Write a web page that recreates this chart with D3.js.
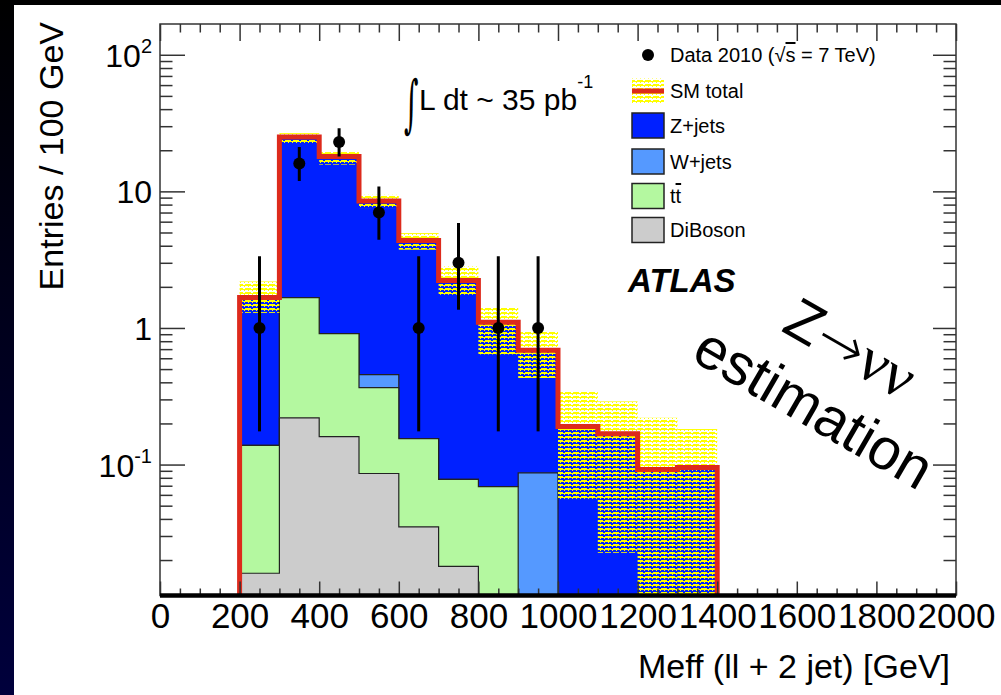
<!DOCTYPE html>
<html>
<head>
<meta charset="utf-8">
<script src="https://cdn.jsdelivr.net/npm/d3@7"></script>
<style>
html, body { margin: 0; padding: 0; background: #000; }
svg { display: block; }
text { font-family: "Liberation Sans", Arial, Helvetica, sans-serif; }
</style>
</head>
<body>
<div id="wrapper"></div>
<script>
// bin edges in GeV (100 GeV bins)
const binEdges = [200, 300, 400, 500, 600, 700, 800, 900, 1000, 1100, 1200, 1300, 1400];
// stacked backgrounds, entries per bin
const diboson = [0.016, 0.22, 0.16, 0.086, 0.035, 0.018, 0, 0, 0, 0, 0, 0];
const ttbar   = [0.122, 1.45, 0.75, 0.28, 0.12, 0.06, 0.069, 0, 0, 0, 0, 0];
const wjets   = [0, 0, 0, 0.089, 0, 0, 0, 0.087, 0, 0, 0, 0];
const zjets   = [1.53, 23.3, 17.1, 8.05, 4.22, 2.15, 1.03, 0.60, 0.19, 0.168, 0.092, 0.095];
// SM total uncertainty band
const bandLow  = [1.29, 22.5, 15.7, 7.55, 3.74, 1.75, 0.64, 0.43, 0.056, 0.0226, 0, 0];
const bandHigh = [2.19, 26.7, 19.4, 9.44, 4.95, 2.82, 1.40, 0.944, 0.344, 0.29, 0.22, 0.182];
// data 2010
const dataX    = [250, 350, 450, 550, 650, 750, 850, 950];
const dataY    = [1, 16, 23, 7, 1, 3, 1, 1];
const dataLow  = [0.175, 11.9, 18.0, 4.43, 0.175, 1.36, 0.175, 0.175];
const dataHigh = [3.35, 21.1, 29.0, 10.84, 3.35, 5.87, 3.35, 3.35];
// axes
const xTicks = [0, 200, 400, 600, 800, 1000, 1200, 1400, 1600, 1800, 2000];
const yTickValues = [0.1, 1, 10, 100];
const yTickBase = ["10", "1", "10", "10"];
const yTickSup  = ["-1", "", "", "2"];
const legendLabels = ["Data 2010", "SM total", "Z+jets", "W+jets", "tt", "DiBoson"];

const colors = {
    z: "#0020ff",
    w: "#5599ff",
    tt: "#b4f8a0",
    dib: "#cccccc",
    red: "#dd2a1c",
    yellow: "#ffff00",
    frame: "#333"
};

const dimension = {
    width: 1001,
    height: 695,
    margin: { top: 24, left: 160, right: 45, bottom: 99.5 }
};
dimension.boundedWidth = dimension.width - dimension.margin.left - dimension.margin.right;
dimension.boundedHeight = dimension.height - dimension.margin.top - dimension.margin.bottom;

const yMin = 0.011, yMax = 168;

const svg = d3.select("#wrapper").append("svg")
    .attr("width", dimension.width)
    .attr("height", dimension.height);
const defs = svg.append("defs");

// dark border of the slide
const grad = defs.append("linearGradient").attr("id", "edge")
    .attr("x1", 0).attr("y1", 0).attr("x2", 0).attr("y2", 1);
grad.append("stop").attr("offset", "0%").attr("stop-color", "#000");
grad.append("stop").attr("offset", "100%").attr("stop-color", "#00003c");
svg.append("rect").attr("width", dimension.width).attr("height", dimension.height).attr("fill", "#000");
svg.append("rect").attr("width", 14).attr("height", dimension.height).attr("fill", "url(#edge)");
svg.append("rect").attr("x", 14).attr("y", 5)
    .attr("width", dimension.width - 14).attr("height", dimension.height - 5)
    .attr("fill", "#fff");

// yellow hatch for the uncertainty band (rows of small boxes)
const hatch = defs.append("pattern").attr("id", "hatch")
    .attr("patternUnits", "userSpaceOnUse")
    .attr("width", 8).attr("height", 4);
hatch.append("path")
    .attr("d", "M0,0H8V2H0Z M3,0H5V1H3Z M0,2H1V3H0Z M4,2H5V3H4Z")
    .attr("fill", colors.yellow)
    .attr("fill-rule", "evenodd");

defs.append("clipPath").attr("id", "plotClip")
    .append("rect")
    .attr("x", dimension.margin.left).attr("y", dimension.margin.top)
    .attr("width", dimension.boundedWidth).attr("height", dimension.boundedHeight);

const xScaler = d3.scaleLinear()
    .domain([0, 2000])
    .range([dimension.margin.left, dimension.margin.left + dimension.boundedWidth]);
const yScaler = d3.scaleLog()
    .domain([yMin, yMax])
    .range([dimension.margin.top + dimension.boundedHeight, dimension.margin.top]);
const yClamp = (v) => yScaler(Math.max(v, yMin));

// cumulative stack
const cumDib = diboson.slice();
const cumTt = cumDib.map((d, i) => d + ttbar[i]);
const cumW = cumTt.map((d, i) => d + wjets[i]);
const cumZ = cumW.map((d, i) => d + zjets[i]);

function stepPoints(vals) {
    const pts = [];
    vals.forEach((v, i) => {
        pts.push([binEdges[i], v]);
        pts.push([binEdges[i + 1], v]);
    });
    return pts;
}

const areaGenerator = d3.area()
    .x(d => xScaler(d[0]))
    .y0(yScaler(yMin))
    .y1(d => yClamp(d[1]));

const plot = svg.append("g").attr("clip-path", "url(#plotClip)");

const layers = [
    [cumZ, colors.z],
    [cumW, colors.w],
    [cumTt, colors.tt],
    [cumDib, colors.dib]
];
layers.forEach(([vals, col]) => {
    plot.append("path")
        .attr("d", areaGenerator(stepPoints(vals)))
        .attr("fill", col)
        .attr("stroke", "#222")
        .attr("stroke-width", 1.2);
});

// uncertainty band
plot.selectAll("rect.band")
    .data(bandHigh)
    .join("rect")
    .attr("class", "band")
    .attr("x", (d, i) => xScaler(binEdges[i]))
    .attr("width", (d, i) => xScaler(binEdges[i + 1]) - xScaler(binEdges[i]))
    .attr("y", d => yClamp(d))
    .attr("height", (d, i) => yClamp(bandLow[i]) - yClamp(d))
    .attr("fill", "url(#hatch)");

// SM total outline
const redPts = [[binEdges[0], yMin]].concat(stepPoints(cumZ), [[binEdges[binEdges.length - 1], yMin]]);
const lineGenerator = d3.line()
    .x(d => xScaler(d[0]))
    .y(d => yClamp(d[1]));
plot.append("path")
    .attr("d", lineGenerator(redPts))
    .attr("fill", "none")
    .attr("stroke", colors.red)
    .attr("stroke-width", 5)
    .attr("stroke-linejoin", "miter");

// data points
plot.selectAll("line.err")
    .data(dataX)
    .join("line")
    .attr("class", "err")
    .attr("x1", d => xScaler(d)).attr("x2", d => xScaler(d))
    .attr("y1", (d, i) => yClamp(dataLow[i]))
    .attr("y2", (d, i) => yClamp(dataHigh[i]))
    .attr("stroke", "#000")
    .attr("stroke-width", 3);
plot.selectAll("circle.pt")
    .data(dataX)
    .join("circle")
    .attr("class", "pt")
    .attr("cx", d => xScaler(d))
    .attr("cy", (d, i) => yScaler(dataY[i]))
    .attr("r", 6)
    .attr("fill", "#000");

// frame
svg.append("rect")
    .attr("x", dimension.margin.left).attr("y", dimension.margin.top)
    .attr("width", dimension.boundedWidth).attr("height", dimension.boundedHeight)
    .attr("fill", "none").attr("stroke", colors.frame).attr("stroke-width", 1.5);

// ticks
const yMinor = [];
[-2, -1, 0, 1, 2].forEach(e => {
    for (let k = 2; k <= 9; k++) {
        const v = k * Math.pow(10, e);
        if (v > yMin && v < yMax) yMinor.push(v);
    }
});
const xMinor = d3.range(0, 2001, 50).filter(v => v % 200 !== 0);

function tickAxis(axis, transform) {
    const g = svg.append("g").attr("transform", transform).call(axis);
    g.select(".domain").remove();
    g.selectAll("line").attr("stroke", colors.frame).attr("stroke-width", 1.5);
    return g;
}
const plotLeft = dimension.margin.left;
const plotRight = dimension.margin.left + dimension.boundedWidth;
const plotTop = dimension.margin.top;
const plotBottom = dimension.margin.top + dimension.boundedHeight;

tickAxis(d3.axisLeft(yScaler).tickValues(yTickValues).tickSizeInner(-25).tickSizeOuter(0).tickFormat(""), `translate(${plotLeft},0)`);
tickAxis(d3.axisLeft(yScaler).tickValues(yMinor).tickSizeInner(-12.5).tickSizeOuter(0).tickFormat(""), `translate(${plotLeft},0)`);
tickAxis(d3.axisRight(yScaler).tickValues(yTickValues).tickSizeInner(-23).tickSizeOuter(0).tickFormat(""), `translate(${plotRight},0)`);
tickAxis(d3.axisRight(yScaler).tickValues(yMinor).tickSizeInner(-12.5).tickSizeOuter(0).tickFormat(""), `translate(${plotRight},0)`);
tickAxis(d3.axisTop(xScaler).tickValues(xTicks).tickSizeInner(-17).tickSizeOuter(0).tickFormat(""), `translate(0,${plotTop})`);
tickAxis(d3.axisTop(xScaler).tickValues(xMinor).tickSizeInner(-8.5).tickSizeOuter(0).tickFormat(""), `translate(0,${plotTop})`);
tickAxis(d3.axisBottom(xScaler).tickValues(xMinor).tickSizeInner(-7).tickSizeOuter(0).tickFormat(""), `translate(0,${plotBottom})`);
const xAxisG = tickAxis(d3.axisBottom(xScaler).tickValues(xTicks).tickSizeInner(-14).tickSizeOuter(0)
    .tickPadding(8).tickFormat(d3.format("d")), `translate(0,${plotBottom})`);
xAxisG.attr("font-family", null).attr("font-size", null);
xAxisG.selectAll("text").attr("fill", "#000").style("font-size", "35px");

// thick bottom axis line
svg.append("line")
    .attr("x1", plotLeft).attr("x2", plotRight)
    .attr("y1", plotBottom).attr("y2", plotBottom)
    .attr("stroke", "#000").attr("stroke-width", 4.5);

// y tick labels 10^n
const yLab = svg.selectAll("text.ylab")
    .data(yTickValues)
    .join("text")
    .attr("class", "ylab")
    .attr("x", 152)
    .attr("y", d => yScaler(d) + 12)
    .attr("text-anchor", "end")
    .style("font-size", "32px");
yLab.append("tspan").text((d, i) => yTickBase[i]);
yLab.filter((d, i) => yTickSup[i] !== "")
    .append("tspan")
    .attr("dy", -14)
    .style("font-size", "20px")
    .text((d) => yTickSup[yTickValues.indexOf(d)]);

// axis titles
svg.append("text")
    .attr("transform", "translate(63,22) rotate(-90)")
    .attr("text-anchor", "end")
    .style("font-size", "34px")
    .text("Entries / 100 GeV");
svg.append("text")
    .attr("x", 950).attr("y", 678)
    .attr("text-anchor", "end")
    .style("font-size", "34px")
    .text("Meff (ll + 2 jet) [GeV]");

// luminosity
svg.append("text")
    .attr("transform", "translate(404,125) scale(0.5,1.12)")
    .style("font-family", "'DejaVu Serif', serif")
    .style("font-size", "56px")
    .text("\u222B");
const lumi = svg.append("text")
    .attr("x", 419).attr("y", 110)
    .style("font-size", "30px");
lumi.append("tspan").text("L dt ~ 35 pb");
lumi.append("tspan").attr("dy", -22).style("font-size", "18px").text("-1");

// ATLAS
svg.append("text")
    .attr("x", 628).attr("y", 292)
    .style("font-size", "33px")
    .style("font-weight", "bold")
    .style("font-style", "italic")
    .text("ATLAS");

// legend
const legX = 632, legW = 32, legH = 25, textX = 670;
const legY = [55, 91, 125.5, 161.5, 196, 230];
svg.append("circle").attr("cx", 648).attr("cy", legY[0]).attr("r", 6).attr("fill", "#000");
const dataLeg = svg.append("text").attr("x", textX).attr("y", legY[0] + 7).style("font-size", "20px");
dataLeg.append("tspan").text(legendLabels[0] + " (\u221A");
dataLeg.append("tspan").style("text-decoration", "overline").text("s");
dataLeg.append("tspan").text(" = 7 TeV)");

svg.append("rect").attr("x", legX).attr("y", legY[1] - legH / 2)
    .attr("width", legW).attr("height", legH).attr("fill", "url(#hatch)");
svg.append("line").attr("x1", legX).attr("x2", legX + legW)
    .attr("y1", legY[1]).attr("y2", legY[1])
    .attr("stroke", colors.red).attr("stroke-width", 5);

const boxColors = [null, null, colors.z, colors.w, colors.tt, colors.dib];
[2, 3, 4, 5].forEach(i => {
    svg.append("rect").attr("x", legX).attr("y", legY[i] - legH / 2)
        .attr("width", legW).attr("height", legH)
        .attr("fill", boxColors[i]).attr("stroke", "#222").attr("stroke-width", 1.5);
});
[1, 2, 3, 5].forEach(i => {
    svg.append("text").attr("x", textX).attr("y", legY[i] + 7)
        .style("font-size", "20px").text(legendLabels[i]);
});
const ttLeg = svg.append("text").attr("x", textX).attr("y", legY[4] + 7).style("font-size", "20px");
ttLeg.append("tspan").text("t");
ttLeg.append("tspan").style("text-decoration", "overline").text("t");

// annotation
const note = svg.append("g").attr("transform", "translate(804,425) rotate(30)");
note.append("text")
    .attr("text-anchor", "middle")
    .style("font-size", "58px")
    .text("estimation");
const zt = note.append("text")
    .attr("x", 2).attr("y", -70)
    .attr("text-anchor", "middle")
    .style("font-size", "58px");
zt.append("tspan").text("Z");
zt.append("tspan").style("font-family", "'DejaVu Sans', sans-serif").style("font-weight", "200").text("\u2192");
zt.append("tspan").style("font-family", "'Liberation Serif', serif").style("font-size", "62px").text("\u03BD\u03BD");
</script>
</body>
</html>
